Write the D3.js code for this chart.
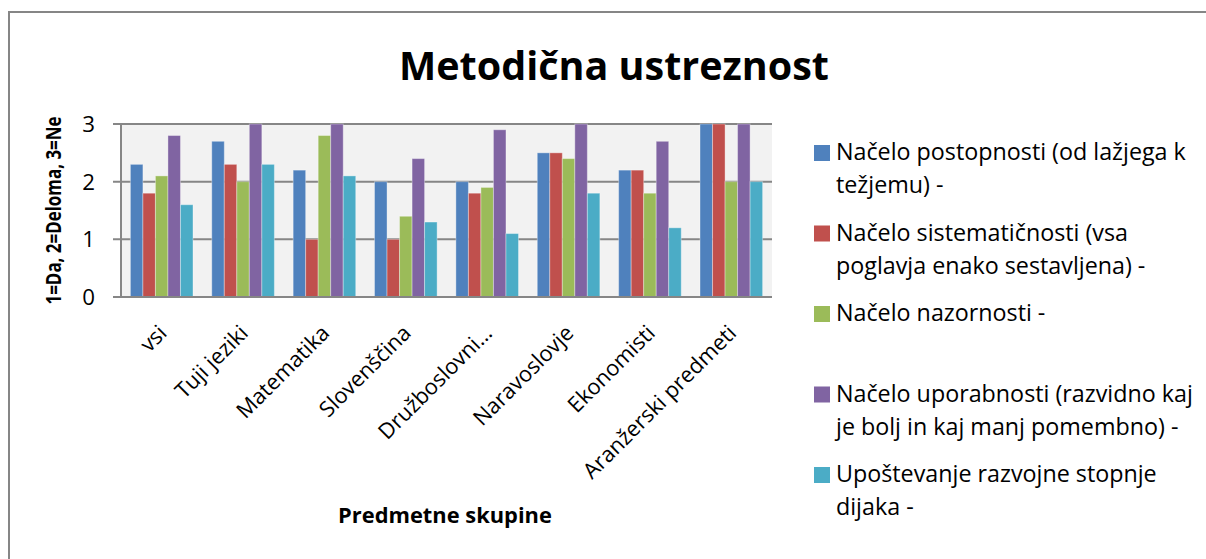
<!DOCTYPE html>
<html><head><meta charset="utf-8">
<script src="https://cdn.jsdelivr.net/npm/d3@7"></script>
<style>body{margin:0;background:#fff}svg{display:block}</style>
</head><body>
<svg id="c" width="1206" height="559"></svg>
<script>
const categories = ["vsi","Tuji jeziki","Matematika","Slovenščina","Družboslovni…","Naravoslovje","Ekonomisti","Aranžerski predmeti"];
const seriesNames = [
  ["Načelo postopnosti (od lažjega k","težjemu) -"],
  ["Načelo sistematičnosti (vsa","poglavja enako sestavljena) -"],
  ["Načelo nazornosti -"],
  ["Načelo uporabnosti (razvidno kaj","je bolj in kaj manj pomembno) -"],
  ["Upoštevanje razvojne stopnje","dijaka -"]
];
const postopnost    = [2.3, 2.7, 2.2, 2.0, 2.0, 2.5, 2.2, 3.0];
const sistematicnost= [1.8, 2.3, 1.0, 1.0, 1.8, 2.5, 2.2, 3.0];
const nazornost     = [2.1, 2.0, 2.8, 1.4, 1.9, 2.4, 1.8, 2.0];
const uporabnost    = [2.8, 3.0, 3.0, 2.4, 2.9, 3.0, 2.7, 3.0];
const razvojna      = [1.6, 2.3, 2.1, 1.3, 1.1, 1.8, 1.2, 2.0];
const yTicks = [0, 1, 2, 3];
const colors = ["#4F81BD","#C0504D","#9BBB59","#8064A2","#4BACC6"];
const series = [postopnost, sistematicnost, nazornost, uporabnost, razvojna];

const FONT = "'Open Sans', Lato, sans-serif";
const svg = d3.select("#c");

function fit(sel, target) {
  const base = parseFloat(sel.attr("font-size"));
  const len = sel.node().getComputedTextLength();
  const fs = base * target / len;
  sel.attr("font-size", fs);
  return fs;
}

// outer border
svg.append("rect").attr("x",9).attr("y",12).attr("width",1210).attr("height",600)
  .attr("fill","#fff").attr("stroke","#868686").attr("stroke-width",2);

const L = 121, R = 772, T = 124, B = 297;
const x0 = d3.scaleBand().domain(categories).range([L, R]).paddingInner(0).paddingOuter(0);
const bw = x0.bandwidth() / 6.5;
const x1 = d3.scaleBand().domain(d3.range(5)).range([0.75*bw, 5.75*bw]).padding(0);
const y = d3.scaleLinear().domain([0, 3]).range([B, T]);

svg.append("rect").attr("x",L).attr("y",T).attr("width",R-L).attr("height",B-T).attr("fill","#f2f2f2");

// gridlines
svg.append("g").selectAll("line").data(yTicks.filter(d=>d>0)).join("line")
  .attr("x1",L-8).attr("x2",R).attr("y1",d=>y(d)).attr("y2",d=>y(d))
  .attr("stroke","#868686").attr("stroke-width",2);

// bars
const g = svg.append("g");
series.forEach((s, si) => {
  g.selectAll(null).data(s).join("rect")
    .attr("x",(d,i)=>x0(categories[i]) + x1(si))
    .attr("y",d=>y(d)).attr("width",x1.bandwidth()).attr("height",d=>y(0)-y(d))
    .attr("fill",colors[si]).attr("stroke","rgba(255,255,255,0.35)").attr("stroke-width",1);
});

// axes lines
svg.append("line").attr("x1",L-8).attr("x2",R).attr("y1",B).attr("y2",B).attr("stroke","#868686").attr("stroke-width",2);
svg.append("line").attr("x1",L).attr("x2",L).attr("y1",T-1).attr("y2",B).attr("stroke","#868686").attr("stroke-width",2);

// x tick labels (size fitted to the longest label)
const xl = svg.append("g").selectAll("text").data(categories).join("text")
  .attr("text-anchor","end").attr("dy","0.35em")
  .attr("transform",d=>`translate(${x0(d)+x0.bandwidth()/2+1},${B+32}) rotate(-45)`)
  .attr("font-family",FONT).attr("font-size",20).attr("fill","#000").text(d=>d);
const tickFs = fit(xl.filter((d,i)=>i===categories.length-1), 206);
xl.attr("font-size", tickFs);

// y tick labels
svg.append("g").selectAll("text").data(yTicks).join("text")
  .attr("x",L-26).attr("y",d=>y(d)).attr("dy","0.36em").attr("text-anchor","end")
  .attr("font-family",FONT).attr("font-size",tickFs+0.5).attr("fill","#000").text(d=>d);

// titles
fit(svg.append("text").attr("x",614).attr("y",80).attr("text-anchor","middle")
  .attr("font-family",FONT).attr("font-weight","bold").attr("font-size",40).text("Metodična ustreznost"), 430);
fit(svg.append("text").attr("x",445).attr("y",523).attr("text-anchor","middle")
  .attr("font-family",FONT).attr("font-weight","bold").attr("font-size",20).text("Predmetne skupine"), 214);
svg.append("text").attr("transform",`translate(61,${(T+B)/2}) rotate(-90)`).attr("text-anchor","middle")
  .attr("font-family",FONT).attr("font-weight","bold").attr("font-size",21)
  .attr("textLength",188).attr("lengthAdjust","spacingAndGlyphs").text("1=Da, 2=Deloma, 3=Ne");

// legend
const lg = svg.append("g");
let legFs = null;
seriesNames.forEach((lines, i) => {
  const by = 160 + 80.5*i;
  lg.append("rect").attr("x",814).attr("y",by-15).attr("width",16).attr("height",16).attr("fill",colors[i]);
  lines.forEach((t, j) => {
    const tx = lg.append("text").attr("x",836).attr("y",by + 33*j)
      .attr("font-family",FONT).attr("font-size",legFs || 21).attr("fill","#000").text(t);
    if (legFs === null) legFs = fit(tx, 350);
  });
});
</script>
</body></html>
